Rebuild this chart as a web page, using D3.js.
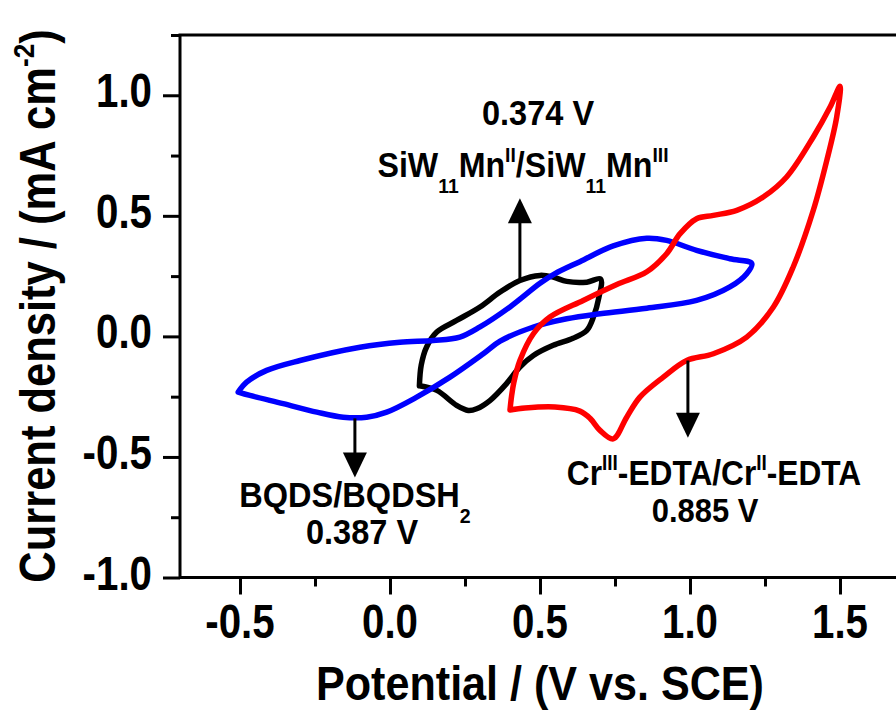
<!DOCTYPE html>
<html>
<head>
<meta charset="utf-8">
<script src="https://cdn.jsdelivr.net/npm/d3@7"></script>
<style>
  body { margin: 0; background: #fff; }
  text { font-family: "Liberation Sans", Arial, sans-serif; font-weight: bold; fill: #000; }
</style>
</head>
<body>
<div id="chart"></div>
<script>
// CV curves, [potential (V vs SCE), current density (mA cm-2)]
var siwMnCurve = [
  [0.098, -0.205], [0.104, -0.12], [0.122, -0.044], [0.156, 0.018], [0.222, 0.066],
  [0.3, 0.122], [0.367, 0.184], [0.433, 0.232], [0.5, 0.253], [0.544, 0.246],
  [0.589, 0.228], [0.656, 0.225], [0.702, 0.238], [0.696, 0.16], [0.678, 0.08],
  [0.656, 0.025], [0.61, -0.008], [0.544, -0.037], [0.478, -0.079], [0.433, -0.127],
  [0.389, -0.195], [0.333, -0.266], [0.289, -0.3], [0.261, -0.307], [0.222, -0.286],
  [0.156, -0.224], [0.098, -0.205]
];

var bqdsCurve = [
  [-0.506, -0.231], [-0.467, -0.245], [-0.356, -0.279], [-0.244, -0.314], [-0.156, -0.335],
  [-0.078, -0.335], [-0.011, -0.314], [0.089, -0.252], [0.2, -0.169], [0.311, -0.072],
  [0.367, -0.02], [0.478, 0.039], [0.589, 0.073], [0.7, 0.094], [0.856, 0.117],
  [1.022, 0.149], [1.133, 0.205], [1.189, 0.26], [1.206, 0.302], [1.133, 0.322],
  [1.022, 0.357], [0.922, 0.398], [0.856, 0.407], [0.744, 0.375], [0.633, 0.31],
  [0.55, 0.26], [0.5, 0.22], [0.4, 0.122], [0.3, 0.039], [0.233, -0.003],
  [0.144, -0.017], [0.033, -0.024], [-0.1, -0.045], [-0.3, -0.1], [-0.411, -0.141],
  [-0.478, -0.19], [-0.506, -0.231]
];

var crEdtaCurve = [
  [0.4, -0.305], [0.405, -0.25], [0.413, -0.19], [0.433, -0.1], [0.478, 0.011],
  [0.533, 0.08], [0.644, 0.149], [0.756, 0.215], [0.856, 0.268], [0.922, 0.343],
  [0.967, 0.426], [1.022, 0.488], [1.078, 0.502], [1.156, 0.523], [1.244, 0.578],
  [1.322, 0.661], [1.411, 0.827], [1.467, 0.951], [1.5, 1.037], [1.489, 0.91],
  [1.456, 0.73], [1.411, 0.523], [1.344, 0.288], [1.278, 0.122], [1.189, -0.003],
  [1.078, -0.072], [0.989, -0.1], [0.911, -0.169], [0.833, -0.252], [0.789, -0.335],
  [0.744, -0.425], [0.7, -0.39], [0.667, -0.34], [0.633, -0.31], [0.55, -0.293],
  [0.45, -0.297], [0.4, -0.305]
];

// arrows: potential, start current, tip current
var arrowX = [0.433, -0.117, 0.993];
var arrowFrom = [0.24, -0.34, -0.1];
var arrowTo = [0.573, -0.585, -0.42];

var xMajor = [-0.5, 0.0, 0.5, 1.0, 1.5];
var xMinor = [-0.25, 0.25, 0.75, 1.25];
var yMajor = [-1.0, -0.5, 0.0, 0.5, 1.0];
var yMinor = [-0.75, -0.25, 0.25, 0.75, 1.25];

var svgWidth = 896;
var svgHeight = 711;
var plot = { left: 180, right: 900, top: 35, bottom: 577.5 };

var svg = d3.select("#chart")
  .append("svg")
  .attr("width", svgWidth)
  .attr("height", svgHeight);

var x = d3.scaleLinear().domain([-0.7, 1.7]).range([plot.left, plot.right]);
var y = d3.scaleLinear().domain([-1.0, 1.25]).range([plot.bottom, plot.top]);

var line = d3.line()
  .x(d => x(d[0]))
  .y(d => y(d[1]))
  .curve(d3.curveCatmullRom.alpha(0.5));

// curves
var curves = [
  { data: siwMnCurve, color: "#000000" },
  { data: bqdsCurve, color: "#0000ff" },
  { data: crEdtaCurve, color: "#ff0000" }
];
svg.selectAll(".cv")
  .data(curves)
  .enter()
  .append("path")
  .attr("class", "cv")
  .attr("d", d => line(d.data))
  .attr("fill", "none")
  .attr("stroke", d => d.color)
  .attr("stroke-width", 5.5)
  .attr("stroke-linejoin", "round")
  .attr("stroke-linecap", "round");

// arrows
var headLen = 25, headW = 12;
arrowX.forEach(function(ax, i) {
  var px = x(ax), y0 = y(arrowFrom[i]), y1 = y(arrowTo[i]);
  var dir = y1 < y0 ? 1 : -1;  // 1 = pointing up
  svg.append("line")
    .attr("x1", px).attr("x2", px)
    .attr("y1", y0).attr("y2", y1 + dir * headLen * 0.8)
    .attr("stroke", "#000").attr("stroke-width", 3);
  svg.append("path")
    .attr("d", "M" + px + "," + y1 +
      "L" + (px - headW) + "," + (y1 + dir * headLen) +
      "L" + (px + headW) + "," + (y1 + dir * headLen) + "Z")
    .attr("fill", "#000");
});

// axes
svg.append("g")
  .attr("transform", "translate(0," + plot.bottom + ")")
  .call(d3.axisBottom(x).tickValues(xMajor).tickSize(17).tickFormat(""))
  .call(g => g.select(".domain").remove())
  .selectAll("line").attr("stroke-width", 3);
svg.append("g")
  .attr("transform", "translate(0," + plot.bottom + ")")
  .call(d3.axisBottom(x).tickValues(xMinor).tickSize(9).tickFormat(""))
  .call(g => g.select(".domain").remove())
  .selectAll("line").attr("stroke-width", 3);
svg.append("g")
  .attr("transform", "translate(" + plot.left + ",0)")
  .call(d3.axisLeft(y).tickValues(yMajor).tickSize(17).tickFormat(""))
  .call(g => g.select(".domain").remove())
  .selectAll("line").attr("stroke-width", 3);
svg.append("g")
  .attr("transform", "translate(" + plot.left + ",0)")
  .call(d3.axisLeft(y).tickValues(yMinor).tickSize(9).tickFormat(""))
  .call(g => g.select(".domain").remove())
  .selectAll("line").attr("stroke-width", 3);

// frame (left, bottom, top)
svg.append("path")
  .attr("d", "M" + svgWidth + "," + plot.top + "H" + plot.left + "V" + plot.bottom + "H" + svgWidth)
  .attr("fill", "none")
  .attr("stroke", "#000")
  .attr("stroke-width", 3)
  .attr("stroke-linecap", "square");

// tick labels (plain hyphen for minus, like the original)
var fmt = d => d3.format(".1f")(d).replace("\u2212", "-");
svg.selectAll(".xlab")
  .data(xMajor)
  .enter()
  .append("text")
  .attr("class", "xlab")
  .attr("transform", d => "translate(" + x(d) + ",638) scale(0.84,1)")
  .attr("text-anchor", "middle")
  .style("font-size", "48px")
  .text(d => fmt(d));
svg.selectAll(".ylab")
  .data(yMajor)
  .enter()
  .append("text")
  .attr("class", "ylab")
  .attr("transform", d => "translate(152," + (y(d) + 12) + ") scale(0.84,1)")
  .attr("text-anchor", "end")
  .style("font-size", "48px")
  .text(d => fmt(d));

// rich text helper: parts = [[string, "sub"|"sup"|undefined], ...]
function richText(parent, parts, size, tx, ty, sx, rot) {
  var t = parent.append("text")
    .attr("text-anchor", "middle")
    .style("font-size", size + "px")
    .attr("transform", "translate(" + tx + "," + ty + ")" + (rot ? " rotate(" + rot + ")" : "") + " scale(" + sx + ",1)");
  var shift = 0;
  parts.forEach(function(p) {
    var target = p[1] === "sub" ? size * 0.45 : p[1] === "sup" ? -size * 0.42 : 0;
    var ts = t.append("tspan").attr("dy", target - shift).text(p[0]);
    if (p[1]) ts.style("font-size", (size * 0.6) + "px");
    shift = target;
  });
  return t;
}

// axis titles
richText(svg, [["Potential / (V vs. SCE)"]], 49, 540, 700, 0.88);
richText(svg, [["Current density / (mA cm"], ["-2", "sup"], [")"]], 50, 55, 306, 0.87, -90);

// annotations
richText(svg, [["0.374 V"]], 35, 538, 125, 0.93);
richText(svg, [["SiW"], ["11", "sub"], ["Mn"], ["II", "sup"], ["/SiW"], ["11", "sub"], ["Mn"], ["III", "sup"]], 35, 523, 177, 0.92);
richText(svg, [["BQDS/BQDSH"], ["2", "sub"]], 35, 355, 507, 0.93);
richText(svg, [["0.387 V"]], 35, 362, 544, 0.93);
richText(svg, [["Cr"], ["III", "sup"], ["-EDTA/Cr"], ["II", "sup"], ["-EDTA"]], 36, 714, 485, 0.88);
richText(svg, [["0.885 V"]], 34, 705, 522, 0.91);
</script>
</body>
</html>
